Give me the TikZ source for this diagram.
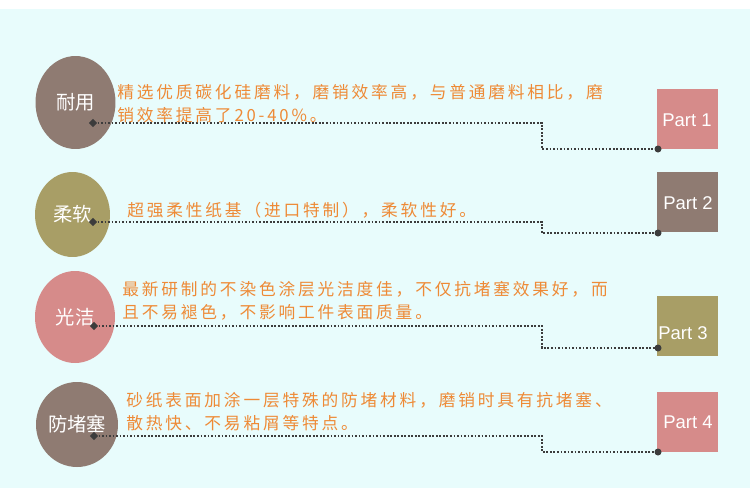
\documentclass[tikz,border=0pt]{standalone}
\usepackage{fontspec}
\setmainfont{Liberation Sans}
\newfontfamily\cjk[LetterSpace=17]{Noto Sans CJK SC}
\newfontfamily\cjkhead{Noto Sans CJK SC}
\usepackage{tikz}
\usetikzlibrary{shapes.geometric}

\definecolor{bgcyan}{HTML}{E8FCFC}
\definecolor{brn}{HTML}{8F7B72}
\definecolor{olv}{HTML}{A89E66}
\definecolor{pnk}{HTML}{D68B8A}
\definecolor{ora}{HTML}{EE8A36}
\definecolor{dotgray}{HTML}{3C3C3C}

\begin{document}
\begin{tikzpicture}[
        x=0.02cm,
        y=-0.02cm,
        badge/.style={ellipse, inner sep=0pt, text=white, font=\cjkhead\fontsize{11}{12}\selectfont},
        part/.style={rectangle, inner sep=0pt, minimum width=1.22cm, minimum height=1.2cm},
        partlab/.style={text=white, font=\fontsize{10.5}{12}\selectfont},
        note/.style={anchor=west, align=left, inner sep=0pt, text=ora, font=\cjk\fontsize{9.5}{13}\selectfont},
        knob/.style={diamond, fill=dotgray, inner sep=0pt, minimum size=0.17cm},
        enddot/.style={circle, fill=dotgray, inner sep=0pt, minimum size=0.14cm},
        link/.style={densely dotted, dotgray, line width=1pt}
    ]
        \useasboundingbox (0,0) rectangle (750,501);
        \fill[bgcyan] (0,9) rectangle (750,488);
        \coordinate (bend) at (542,0);

        % left badges with their knobs
        \foreach \i/\cx/\cy/\w/\h/\col/\lab/\dx/\dy in {1/75.5/102.5/1.6/1.86/brn/耐用/93/123,
                2/72.5/214.5/1.5/1.7/olv/柔软/93/222,
                3/75/317/1.6/1.84/pnk/光洁/94/326,
                4/77/424.5/1.6/1.7/brn/防堵塞/94/436} {
            \node[badge, fill=\col, minimum width=\w cm, minimum height=\h cm] (c\i) at (\cx,\cy) {\lab};
            \node[knob] (d\i) at (\dx,\dy) {};
        }

        % right boxes
        \foreach \i/\cy/\col/\tx/\ty/\ey in {1/119/pnk/687/120/149,
                2/202/brn/688/203/233,
                3/325.5/olv/683/333/348,
                4/422/pnk/688/422/452} {
            \node[part, fill=\col] (p\i) at (687.5,\cy) {};
            \node[partlab] (t\i) at (\tx,\ty) {Part \i};
            \node[enddot] (e\i) at (658,\ey) {};
            \draw[link] (d\i.east) -- (d\i.center -| bend) |- (e\i.center);
        }

        % descriptions
        \node[note] (n1) at (117,104) {精选优质碳化硅磨料，磨销效率高，与普通磨料相比，磨\\销效率提高了20-40\%。};
        \node[note] (n2) at (127,210) {超强柔性纸基（进口特制），柔软性好。};
        \node[note] (n3) at (122,301) {最新研制的不染色涂层光洁度佳，不仅抗堵塞效果好，而\\且不易褪色，不影响工件表面质量。};
        \node[note] (n4) at (126,411.5) {砂纸表面加涂一层特殊的防堵材料，磨销时具有抗堵塞、\\散热快、不易粘屑等特点。};
    \end{tikzpicture}
\end{document}
